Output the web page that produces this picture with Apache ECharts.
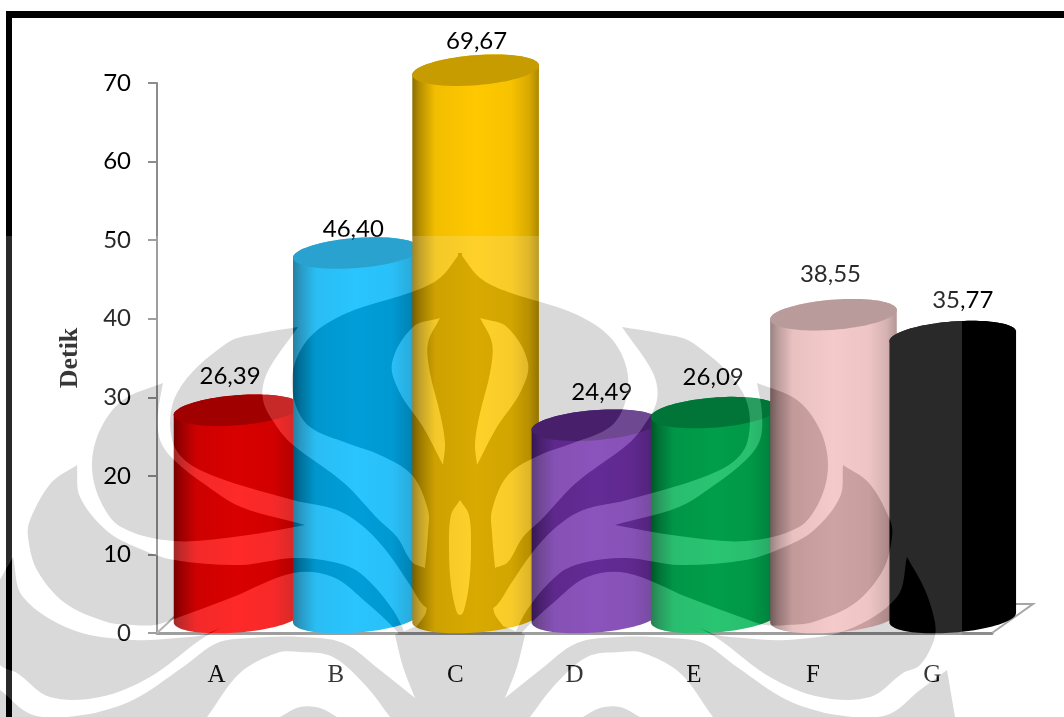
<!DOCTYPE html>
<html>
<head>
<meta charset="utf-8">
<style>html,body{margin:0;padding:0;background:#fff}#chart{width:1064px;height:717px}</style>
<script src="https://cdn.jsdelivr.net/npm/echarts@6/dist/echarts.min.js"></script>
</head>
<body>
<div id="chart"></div>
<script>
// Waktu per kelompok, dalam detik
const categories = ['A', 'B', 'C', 'D', 'E', 'F', 'G'];
const seconds = [26.39, 46.40, 69.67, 24.49, 26.09, 38.55, 35.77];
const yTicks = [0, 10, 20, 30, 40, 50, 60, 70];
const barColors = ['#ff0000', '#00baff', '#ffc800', '#7533af', '#00ba58', '#f2c0c0', '#000000'];
const capShades = [0.74, 0.78, 0.78, 0.72, 0.74, 0.71, 1];

// Label placement relative to each cylinder's top: [dx, gap]
const labelNudges = [[-7, 19], [-3, 9], [1, 14], [7, 18], [-1, 20], [-3, 25], [10, 21]];

// Cylinder geometry in pixels
const RADIUS_X = 63.5, RADIUS_Y = 15, TILT = -4.5 * Math.PI / 180;
const DEPTH_X = 20.4, DEPTH_Y = 15.4;

// Plot box
const PLOT = { left: 157, top: 83, width: 835, height: 550 };

// Seal outline, left half; the right half is its reflection about x = 460.
// A third element of 1 marks a sharp corner.
const sealCentre = [[460,253,1],[440,278],[412,292],[347,313],[310,337],[293,370],[295,403],[310,427],[347,443],[380,455],[412,475],[428,510],[428,533],[425,568,1],[427,590],[426,612],[417,626,1],[395,635,1],[403,667],[415,698,1],[418,717,1],[462,717,1],[462,253,1],[460,253,1]];
const sealInnerPetal = [[440,318,1],[413,327],[392,363],[400,393],[423,427],[443,465,1],[445,443],[440,413],[430,373],[428,343],[440,318,1]];
const sealMiddlePetal = [[460,500],[469,515],[471,550],[469,585],[464,610],[460,615],[456,610],[451,585],[449,550],[451,515],[460,500]];
const sealArmUpper = [[298,327,1],[262,333],[227,343],[177,393],[173,443],[200,470],[293,500],[337,510],[365,528],[388,553],[410,585],[423,605],[435,612,1],[425,568,1],[412,562],[397,537],[379,520],[344,483],[293,445],[277,427],[263,400],[267,373],[298,327,1]];
const sealBlob = [[163,383,1],[123,400],[100,430],[92,465],[100,500],[121,527],[174,541],[241,536],[305,525,1],[241,507],[207,486],[174,460],[160,440],[158,413],[163,383,1]];
const sealCrescent = [[77,465,1],[51,483],[30,520],[28,537],[37,570],[65,603],[107,622],[133,625],[155,625],[174,619],[233,597],[293,573],[333,577],[367,603],[393,627],[412,650,1],[393,610],[360,573],[333,562],[293,558],[241,565],[174,560],[138,548],[107,531],[80,497],[77,465,1]];
const sealLowerTail = [[13,557,1],[23,597],[73,630],[133,640],[177,638],[203,635],[220,628,1],[200,640],[150,677],[100,697],[50,697],[17,673],[0,665],[-14,640],[-15,623],[-5,590],[13,557,1]];
const sealBase = [[-27,670,1],[0,690],[33,715],[83,715],[133,700],[183,667],[217,643],[250,638],[300,637],[343,643],[380,670],[415,698,1],[425,717,1],[390,717,1],[367,687],[333,657],[300,652],[277,653],[240,673],[207,717,1],[-35,717,1],[-27,670,1]];
const sealFoot = [[280,717,1],[300,707],[320,708],[337,717,1],[280,717,1]];

// Smooth curve through a point list: each tangent follows the neighbouring
// chord and its handle is a third of the segment, so uneven spacing stays kink-free.
function tracePath(path, pts, mirror) {
  const P = pts.map(p => [mirror ? 920 - p[0] : p[0], p[1], p[2]]);
  const unit = (a, b) => {
    const dx = b[0] - a[0], dy = b[1] - a[1], d = Math.hypot(dx, dy) || 1;
    return [dx / d, dy / d];
  };
  path.moveTo(P[0][0], P[0][1]);
  for (let i = 0; i < P.length - 1; i++) {
    const p1 = P[i], p2 = P[i + 1];
    const p0 = (p1[2] || i === 0) ? p1 : P[i - 1];
    const p3 = (p2[2] || i + 2 >= P.length) ? p2 : P[i + 2];
    const h = Math.hypot(p2[0] - p1[0], p2[1] - p1[1]) / 3;
    const t1 = unit(p0, p2), t2 = unit(p1, p3);
    path.bezierCurveTo(p1[0] + t1[0] * h, p1[1] + t1[1] * h, p2[0] - t2[0] * h, p2[1] - t2[1] * h, p2[0], p2[1]);
  }
  path.closePath();
}

function shapePath(pts, mirror) {
  const p = new Path2D();
  tracePath(p, pts, mirror);
  return p;
}

// Translucent seal laid over the page from y = 236 down to the bottom
function buildOverlay() {
  const cv = document.createElement('canvas');
  cv.width = 1064; cv.height = 717;
  const g = cv.getContext('2d');

  const mask = document.createElement('canvas');
  mask.width = 1064; mask.height = 717;
  const m = mask.getContext('2d');
  m.fillStyle = '#000';
  [sealCentre, sealArmUpper, sealBlob, sealCrescent, sealLowerTail, sealBase, sealFoot].forEach(s => {
    m.fill(shapePath(s, false));
    m.fill(shapePath(s, true));
  });
  m.globalCompositeOperation = 'destination-out';
  m.fill(shapePath(sealInnerPetal, false));
  m.fill(shapePath(sealInnerPetal, true));
  m.fill(shapePath(sealMiddlePetal, false));

  g.fillStyle = 'rgba(255,255,255,0.16)';
  g.fillRect(0, 236, 962, 481);
  g.globalCompositeOperation = 'destination-out';
  g.drawImage(mask, 0, 0);
  g.globalCompositeOperation = 'source-over';
  g.globalAlpha = 0.15;
  g.drawImage(mask, 0, 0);
  g.globalAlpha = 1;
  g.globalCompositeOperation = 'destination-in';
  g.fillStyle = '#000';
  g.fillRect(0, 236, 962, 481);
  return cv;
}

function shade(hex, f) {
  const n = parseInt(hex.slice(1), 16);
  const c = [n >> 16 & 255, n >> 8 & 255, n & 255].map(v => Math.round(v * f));
  return 'rgb(' + c.join(',') + ')';
}

// Point on the tilted ellipse around (cx, cy)
function onEllipse(cx, cy, t) {
  const ex = RADIUS_X * Math.cos(t), ey = RADIUS_Y * Math.sin(t);
  return [cx + ex * Math.cos(TILT) - ey * Math.sin(TILT), cy + ex * Math.sin(TILT) + ey * Math.cos(TILT)];
}

function drawCylinder(params, api) {
  const i = api.value(0), v = api.value(1);
  const top = api.coord([i, v]), foot = api.coord([i, 0]);
  const cx = top[0] + DEPTH_X, cyTop = top[1] - DEPTH_Y, cyFoot = foot[1] - DEPTH_Y;
  const color = barColors[i];
  const N = 48;

  // Side wall: top half-ellipse edge down to the lower half of the foot ellipse
  const wall = [];
  for (let k = 0; k <= N; k++) wall.push(onEllipse(cx, cyFoot, Math.PI * k / N));
  for (let k = 0; k <= N; k++) wall.push(onEllipse(cx, cyTop, Math.PI + Math.PI * k / N));
  const cap = [];
  for (let k = 0; k < 2 * N; k++) cap.push(onEllipse(cx, cyTop, Math.PI * k / N));

  const wallFill = i === 6 ? '#000' : new echarts.graphic.LinearGradient(0, 0, 1, 0, [
    { offset: 0, color: shade(color, 0.55) }, { offset: 0.06, color: shade(color, 0.72) },
    { offset: 0.18, color: shade(color, 0.95) }, { offset: 0.5, color: shade(color, 1) },
    { offset: 0.78, color: shade(color, 0.97) }, { offset: 0.92, color: shade(color, 0.85) },
    { offset: 1, color: shade(color, 0.68) }
  ]);
  const nudge = labelNudges[i];
  return {
    type: 'group',
    children: [
      { type: 'polygon', z2: i * 3, shape: { points: wall }, style: { fill: wallFill } },
      { type: 'polygon', z2: i * 3 + 1, shape: { points: cap }, style: { fill: shade(color, capShades[i]) } },
      { type: 'text', z2: 100, style: {
          x: cx + nudge[0], y: cyTop - RADIUS_Y - nudge[1],
          text: v.toFixed(2).replace('.', ','),
          fill: '#000', font: '24px Lato', align: 'center', verticalAlign: 'middle'
      } }
    ]
  };
}

const chart = echarts.init(document.getElementById('chart'), null, { renderer: 'canvas' });
const floorY = PLOT.top + PLOT.height, floorX = PLOT.left + PLOT.width;
const axisGrey = '#8c8c8c';

chart.setOption({
  animation: false,
  backgroundColor: '#fff',
  grid: { left: PLOT.left, top: PLOT.top, width: PLOT.width, height: PLOT.height },
  xAxis: {
    type: 'category', data: categories,
    axisLine: { lineStyle: { color: axisGrey, width: 3 } },
    axisTick: { show: false },
    axisLabel: { margin: 30, color: '#111', fontFamily: 'Liberation Serif', fontSize: 25 }
  },
  yAxis: {
    type: 'value', min: yTicks[0], max: yTicks[yTicks.length - 1], interval: 10,
    name: 'Detik', nameLocation: 'middle', nameGap: 74, nameRotate: 90,
    nameTextStyle: { color: '#111', fontFamily: 'Liberation Serif', fontWeight: 'bold', fontSize: 26 },
    splitLine: { show: false },
    axisLine: { show: true, lineStyle: { color: axisGrey, width: 2 } },
    axisTick: { show: true, length: 9, lineStyle: { color: axisGrey, width: 2 } },
    axisLabel: { margin: 26, color: '#000', fontFamily: 'Lato', fontSize: 24, padding: [4, 0, 0, 0] }
  },
  series: [{
    type: 'custom', coordinateSystem: 'cartesian2d', z: 5,
    data: seconds.map((v, i) => [i, v]),
    encode: { x: 0, y: 1 },
    renderItem: drawCylinder,
    clip: false
  }],
  graphic: [
    // Floor of the chart box, behind the cylinders
    { type: 'polyline', z: 1, shape: { points: [[PLOT.left, floorY], [PLOT.left + 31, floorY - 29], [floorX + 41, floorY - 29], [floorX, floorY]] },
      style: { stroke: '#a6a6a6', lineWidth: 2, fill: null } },
    // Outer black frame, open at the right and bottom
    { type: 'rect', z: 2, shape: { x: 6, y: 11, width: 1058, height: 7 }, style: { fill: '#000' } },
    { type: 'rect', z: 2, shape: { x: 6, y: 11, width: 6, height: 706 }, style: { fill: '#000' } },
    { type: 'image', z: 50, silent: true, style: { image: buildOverlay(), x: 0, y: 0, width: 1064, height: 717 } }
  ]
});
</script>
</body>
</html>
